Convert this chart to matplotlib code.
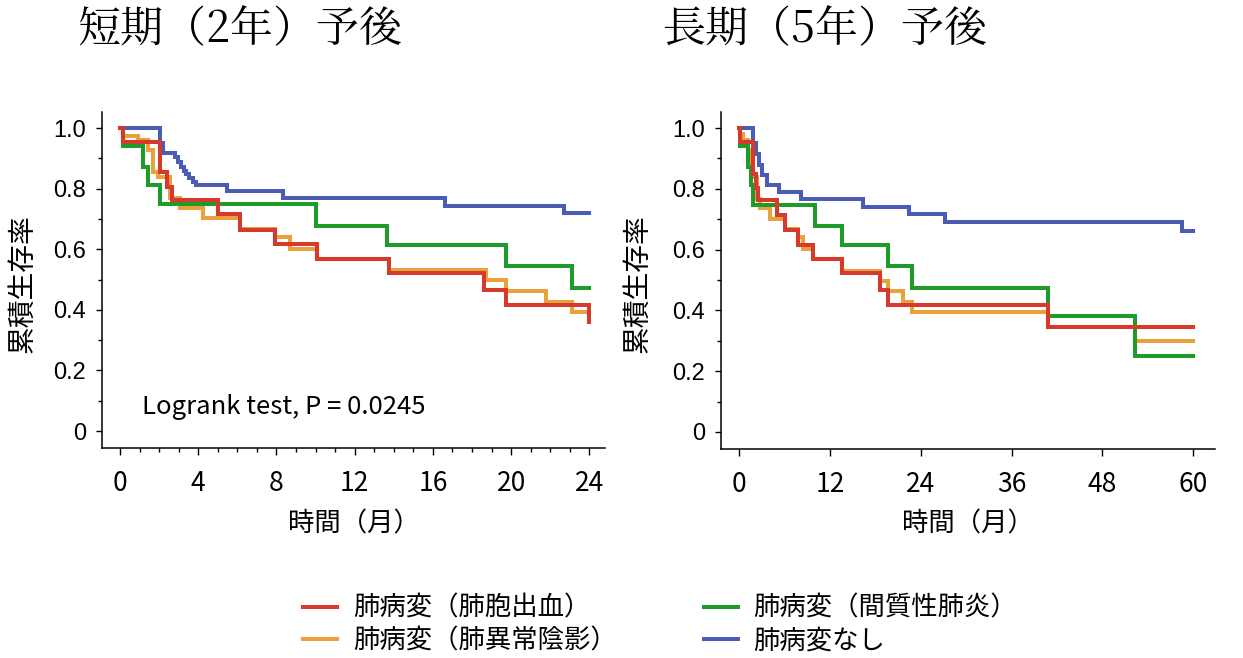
import matplotlib
matplotlib.use("Agg")
import matplotlib.pyplot as plt
from matplotlib import font_manager
from matplotlib.ticker import MultipleLocator, FixedLocator, FixedFormatter

JP = "Noto Sans CJK JP"
plt.rcParams["font.family"] = [JP, "DejaVu Sans"]
installed = {f.name for f in font_manager.fontManager.ttflist}
TITLE_FAMILY = [f for f in ["Noto Serif CJK JP", JP] if f in installed] + ["DejaVu Sans"]
LATIN = "Liberation Sans" if "Liberation Sans" in installed else "DejaVu Sans"

# ---- labels ----
group_labels = ["肺病変（肺胞出血）", "肺病変（肺異常陰影）", "肺病変（間質性肺炎）", "肺病変なし"]
group_colors = ["#d63a2c", "#e9a23b", "#1e9b2b", "#4a5cb3"]
panel_titles = ["短期（2年）予後", "長期（5年）予後"]
x_label = "時間（月）"
y_label = "累積生存率"
y_ticks = [0, 0.2, 0.4, 0.6, 0.8, 1.0]
y_tick_labels = ["0", "0.2", "0.4", "0.6", "0.8", "1.0"]
short_x_ticks = [0, 4, 8, 12, 16, 20, 24]
long_x_ticks = [0, 12, 24, 36, 48, 60]
logrank_note = "Logrank test, P = 0.0245"

# ---- short term (2 years): Kaplan-Meier steps, months / survival ----
short_red_t = [0, 0.17, 2.05, 2.39, 2.65, 5.03, 6.14, 7.94, 10.07, 13.74, 18.63, 19.76, 24.0]
short_red_s = [1.0, 0.953, 0.856, 0.804, 0.762, 0.715, 0.665, 0.616, 0.567, 0.522, 0.467, 0.416, 0.36]

short_orange_t = [0, 0.17, 0.94, 1.45, 1.71, 1.96, 2.56, 3.07, 4.27, 6.14, 7.94, 8.67, 10.07,
                  13.74, 18.69, 19.76, 21.76, 23.09, 24.0]
short_orange_s = [1.0, 0.974, 0.96, 0.927, 0.856, 0.839, 0.768, 0.737, 0.702, 0.668, 0.641, 0.602,
                  0.569, 0.531, 0.498, 0.463, 0.426, 0.393, 0.393]

short_green_t = [0, 0.15, 1.16, 1.45, 2.05, 10.03, 13.65, 19.76, 23.09, 24.0]
short_green_s = [1.0, 0.941, 0.872, 0.812, 0.748, 0.677, 0.613, 0.545, 0.472, 0.472]

short_blue_t = [0, 2.05, 2.2, 2.8, 2.95, 3.1, 3.25, 3.4, 3.55, 3.75, 3.9, 5.46, 8.36, 16.6, 22.7, 24.0]
short_blue_s = [1.0, 0.952, 0.918, 0.905, 0.889, 0.872, 0.859, 0.848, 0.834, 0.823, 0.812, 0.792,
                0.768, 0.742, 0.718, 0.718]

# ---- long term (5 years) ----
long_red_t = [0, 0.09, 1.85, 2.2, 2.5, 4.93, 6.04, 7.8, 9.78, 13.52, 18.59, 19.69, 40.84, 60.0]
long_red_s = [1.0, 0.953, 0.85, 0.804, 0.762, 0.715, 0.666, 0.616, 0.568, 0.522, 0.468, 0.417, 0.344, 0.344]

long_orange_t = [0, 0.09, 0.53, 1.19, 1.63, 1.85, 2.29, 2.73, 4.05, 6.04, 7.8, 8.46, 9.78, 13.52,
                 18.59, 19.69, 21.67, 22.9, 40.84, 52.29, 60.0]
long_orange_s = [1.0, 0.982, 0.96, 0.927, 0.856, 0.84, 0.768, 0.737, 0.702, 0.669, 0.641, 0.603,
                 0.57, 0.531, 0.498, 0.463, 0.427, 0.394, 0.344, 0.30, 0.30]

long_green_t = [0, 0.09, 1.19, 1.5, 1.85, 10.0, 13.52, 19.69, 22.9, 40.84, 52.29, 60.0]
long_green_s = [1.0, 0.941, 0.872, 0.812, 0.748, 0.678, 0.614, 0.546, 0.473, 0.381, 0.251, 0.251]

long_blue_t = [0, 1.85, 2.2, 2.6, 3.0, 3.6, 5.3, 8.2, 16.4, 22.5, 27.2, 58.5, 60.0]
long_blue_s = [1.0, 0.95, 0.916, 0.88, 0.845, 0.812, 0.79, 0.766, 0.742, 0.718, 0.691, 0.66, 0.66]

short_curves = [(short_red_t, short_red_s), (short_orange_t, short_orange_s),
                (short_green_t, short_green_s), (short_blue_t, short_blue_s)]
long_curves = [(long_red_t, long_red_s), (long_orange_t, long_orange_s),
               (long_green_t, long_green_s), (long_blue_t, long_blue_s)]

W, H = 1243, 658
fig = plt.figure(figsize=(W / 100, H / 100), dpi=100)
fig.patch.set_facecolor("white")


def px_box(left, top, right, bottom):
    return [left / W, 1 - bottom / H, (right - left) / W, (bottom - top) / H]


ax1 = fig.add_axes(px_box(102, 112, 605, 448))
ax2 = fig.add_axes(px_box(721, 112, 1215, 449))

draw_order = [1, 2, 3, 0]  # orange, green, blue, then red on top
handles = [None] * 4


def style_axes(ax, xlim, xticks, minor_x):
    ax.set_xlim(*xlim)
    ax.set_ylim(-0.056, 1.053)
    for side in ("top", "right"):
        ax.spines[side].set_visible(False)
    for side in ("left", "bottom"):
        ax.spines[side].set_linewidth(1.1)
    ax.yaxis.set_major_locator(FixedLocator(y_ticks))
    ax.yaxis.set_major_formatter(FixedFormatter(y_tick_labels))
    ax.yaxis.set_minor_locator(FixedLocator([0.1, 0.3, 0.5, 0.7, 0.9]))
    ax.xaxis.set_major_locator(FixedLocator(xticks))
    if minor_x:
        ax.xaxis.set_minor_locator(MultipleLocator(minor_x))
    ax.tick_params(axis="y", which="major", length=4.5, width=1, pad=7, labelsize=17)
    ax.tick_params(axis="y", which="minor", length=3, width=1)
    ax.tick_params(axis="x", which="major", length=5, width=1, pad=11, labelsize=19)
    ax.tick_params(axis="x", which="minor", length=3, width=1)
    for lab in ax.get_yticklabels():
        lab.set_family(LATIN)
    ax.set_xlabel(x_label, fontsize=19, va="center")
    ax.set_ylabel(y_label, fontsize=20)


for ax, curves in ((ax1, short_curves), (ax2, long_curves)):
    for i in draw_order:
        t, s = curves[i]
        (ln,) = ax.step(t, s, where="post", color=group_colors[i], lw=2.9,
                        solid_joinstyle="miter")
        if ax is ax1:
            handles[i] = ln

style_axes(ax1, (-0.92, 24.8), short_x_ticks, 1)
style_axes(ax2, (-2.42, 62.9), long_x_ticks, None)

ax1.xaxis.set_label_coords(0.5, (448 - 524) / 336)
ax2.xaxis.set_label_coords(0.5, (449 - 524) / 337)
ax1.yaxis.set_label_coords((37 - 102) / 503, 0.49)
ax2.yaxis.set_label_coords((652 - 721) / 494, 0.49)

ax1.text(1.13, 0.079, logrank_note, fontsize=18.5, ha="left", va="center")

fig.text(240 / W, 1 - 30 / H, panel_titles[0], fontsize=31, ha="center", va="center",
         family=TITLE_FAMILY)
fig.text(825 / W, 1 - 30 / H, panel_titles[1], fontsize=31, ha="center", va="center",
         family=TITLE_FAMILY)

fig.legend(handles, group_labels, ncol=2, loc="center", bbox_to_anchor=(660 / W, 1 - 624.5 / H),
           frameon=False, fontsize=19, handlelength=1.3, handletextpad=0.6,
           columnspacing=3.3, labelspacing=0.2, borderpad=0)

fig.savefig("out.png", dpi=100, facecolor="white")
